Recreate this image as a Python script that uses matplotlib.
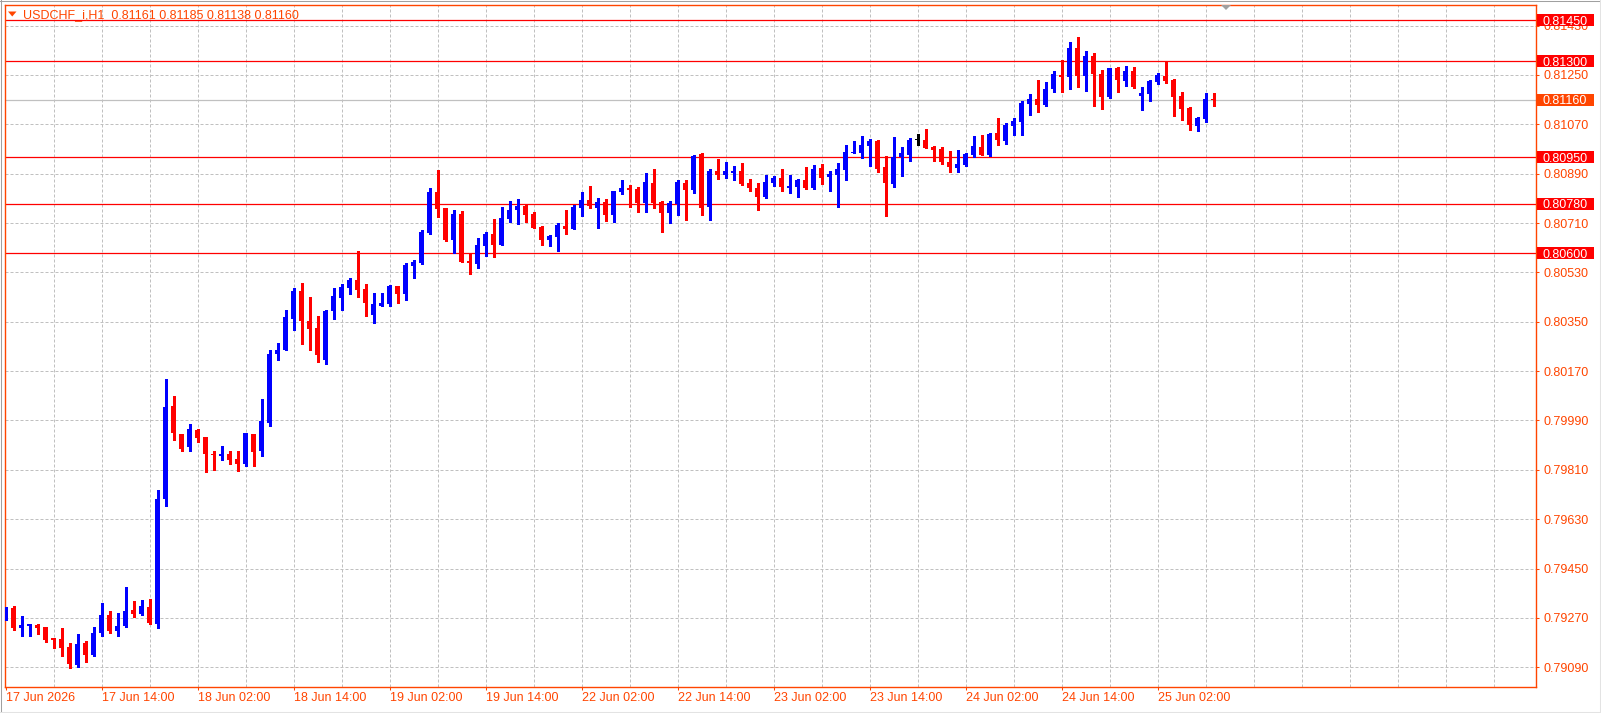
import numpy as np
import matplotlib
matplotlib.use("Agg")
import matplotlib.pyplot as plt
from matplotlib.patches import Rectangle, Polygon
from matplotlib.lines import Line2D
from matplotlib.transforms import blended_transform_factory

plt.rcParams['font.family'] = ['Liberation Sans', 'DejaVu Sans']

# USDCHF_i H1 bars, 17 Jun 02:00 .. 25 Jun 09:00 (weekend skipped)
opens = [0.79275, 0.79305, 0.79234, 0.79242, 0.79244, 0.79237, 0.79197, 0.79193, 0.79164, 0.79097,
         0.79179, 0.79135, 0.79214, 0.79281, 0.79222, 0.79241, 0.79299, 0.79284, 0.79310, 0.79248,
         0.79704, 0.80043, 0.79941, 0.79894, 0.79956, 0.79930, 0.79868, 0.79860, 0.79868, 0.79850,
         0.79831, 0.79941, 0.79879, 0.79981, 0.80232, 0.80247, 0.80360, 0.80462, 0.80353, 0.80327,
         0.80210, 0.80389, 0.80437, 0.80473, 0.80502, 0.80469, 0.80375, 0.80407, 0.80415, 0.80480,
         0.80451, 0.80553, 0.80564, 0.80673, 0.80823, 0.80765, 0.80648, 0.80743, 0.80571, 0.80560,
         0.80626, 0.80670, 0.80630, 0.80725, 0.80757, 0.80772, 0.80743, 0.80695, 0.80648, 0.80659,
         0.80699, 0.80688, 0.80765, 0.80794, 0.80765, 0.80787, 0.80739, 0.80823, 0.80838, 0.80834,
         0.80783, 0.80856, 0.80787, 0.80746, 0.80779, 0.80856, 0.80830, 0.80962, 0.80768, 0.80900,
         0.80885, 0.80892, 0.80900, 0.80856, 0.80838, 0.80805, 0.80856, 0.80874, 0.80838, 0.80841,
         0.80867, 0.80838, 0.80911, 0.80878, 0.80885, 0.80903, 0.80965, 0.80965, 0.80991, 0.81009,
         0.80914, 0.80852, 0.80951, 0.80958, 0.81013, 0.81013, 0.80987, 0.80980, 0.80933, 0.80911,
         0.80922, 0.80958, 0.80987, 0.80958, 0.81038, 0.81009, 0.81064, 0.81078, 0.81144, 0.81162,
         0.81140, 0.81199, 0.81250, 0.81243, 0.81348, 0.81246, 0.81319, 0.81253, 0.81170, 0.81275,
         0.81228, 0.81264, 0.81173, 0.81180, 0.81224, 0.81246, 0.81232, 0.81173, 0.81129, 0.81064,
         0.81089, 0.81161]
highs = [0.79310, 0.79314, 0.79277, 0.79248, 0.79248, 0.79237, 0.79197, 0.79233, 0.79179, 0.79211,
         0.79186, 0.79237, 0.79324, 0.79295, 0.79288, 0.79383, 0.79332, 0.79335, 0.79339, 0.79736,
         0.80141, 0.80079, 0.79941, 0.79977, 0.79959, 0.79930, 0.79879, 0.79897, 0.79879, 0.79879,
         0.79944, 0.79941, 0.80068, 0.80247, 0.80271, 0.80393, 0.80473, 0.80491, 0.80440, 0.80371,
         0.80393, 0.80473, 0.80488, 0.80509, 0.80608, 0.80488, 0.80455, 0.80455, 0.80484, 0.80480,
         0.80564, 0.80575, 0.80684, 0.80837, 0.80903, 0.80765, 0.80757, 0.80754, 0.80601, 0.80655,
         0.80677, 0.80725, 0.80768, 0.80790, 0.80798, 0.80779, 0.80750, 0.80699, 0.80666, 0.80710,
         0.80757, 0.80776, 0.80823, 0.80845, 0.80801, 0.80798, 0.80827, 0.80867, 0.80849, 0.80841,
         0.80892, 0.80907, 0.80790, 0.80790, 0.80867, 0.80867, 0.80958, 0.80965, 0.80907, 0.80943,
         0.80933, 0.80918, 0.80929, 0.80870, 0.80856, 0.80885, 0.80881, 0.80907, 0.80885, 0.80870,
         0.80914, 0.80922, 0.80925, 0.80900, 0.80929, 0.80995, 0.81009, 0.81027, 0.81017, 0.81013,
         0.80954, 0.81024, 0.80987, 0.81020, 0.81034, 0.81053, 0.80991, 0.80987, 0.80973, 0.80976,
         0.80965, 0.81027, 0.81031, 0.81038, 0.81093, 0.81075, 0.81093, 0.81155, 0.81180, 0.81232,
         0.81224, 0.81264, 0.81304, 0.81370, 0.81388, 0.81337, 0.81330, 0.81268, 0.81275, 0.81279,
         0.81282, 0.81279, 0.81206, 0.81232, 0.81257, 0.81297, 0.81235, 0.81188, 0.81133, 0.81097,
         0.81184, 0.81185]
lows = [0.79263, 0.79226, 0.79204, 0.79204, 0.79211, 0.79183, 0.79159, 0.79131, 0.79086, 0.79092,
        0.79110, 0.79131, 0.79204, 0.79214, 0.79204, 0.79238, 0.79273, 0.79281, 0.79248, 0.79233,
        0.79679, 0.79919, 0.79879, 0.79879, 0.79913, 0.79803, 0.79809, 0.79846, 0.79831, 0.79806,
        0.79824, 0.79824, 0.79860, 0.79970, 0.80210, 0.80247, 0.80320, 0.80269, 0.80247, 0.80203,
        0.80196, 0.80360, 0.80393, 0.80451, 0.80440, 0.80371, 0.80345, 0.80407, 0.80407, 0.80418,
        0.80429, 0.80509, 0.80560, 0.80670, 0.80732, 0.80644, 0.80601, 0.80568, 0.80524, 0.80546,
        0.80590, 0.80586, 0.80630, 0.80714, 0.80706, 0.80714, 0.80692, 0.80630, 0.80626, 0.80608,
        0.80670, 0.80688, 0.80736, 0.80765, 0.80692, 0.80717, 0.80714, 0.80816, 0.80768, 0.80750,
        0.80750, 0.80765, 0.80677, 0.80710, 0.80739, 0.80721, 0.80819, 0.80739, 0.80721, 0.80870,
        0.80874, 0.80867, 0.80849, 0.80827, 0.80757, 0.80801, 0.80845, 0.80827, 0.80819, 0.80805,
        0.80834, 0.80834, 0.80852, 0.80827, 0.80768, 0.80867, 0.80965, 0.80947, 0.80918, 0.80896,
        0.80736, 0.80841, 0.80881, 0.80936, 0.80995, 0.80983, 0.80936, 0.80925, 0.80896, 0.80896,
        0.80918, 0.80951, 0.80958, 0.80954, 0.80995, 0.80998, 0.81031, 0.81031, 0.81104, 0.81115,
        0.81137, 0.81188, 0.81188, 0.81199, 0.81206, 0.81192, 0.81137, 0.81126, 0.81166, 0.81188,
        0.81210, 0.81202, 0.81122, 0.81155, 0.81217, 0.81221, 0.81100, 0.81086, 0.81049, 0.81046,
        0.81078, 0.81138]
closes = [0.79305, 0.79232, 0.79244, 0.79248, 0.79234, 0.79190, 0.79190, 0.79162, 0.79103, 0.79175,
          0.79135, 0.79215, 0.79281, 0.79222, 0.79241, 0.79295, 0.79284, 0.79314, 0.79252, 0.79704,
          0.80039, 0.79945, 0.79886, 0.79959, 0.79927, 0.79869, 0.79864, 0.79868, 0.79846, 0.79831,
          0.79944, 0.79875, 0.79988, 0.80232, 0.80247, 0.80367, 0.80462, 0.80353, 0.80324, 0.80229,
          0.80389, 0.80444, 0.80477, 0.80502, 0.80466, 0.80418, 0.80415, 0.80418, 0.80480, 0.80451,
          0.80557, 0.80568, 0.80677, 0.80823, 0.80761, 0.80648, 0.80743, 0.80568, 0.80564, 0.80630,
          0.80670, 0.80630, 0.80728, 0.80757, 0.80772, 0.80739, 0.80692, 0.80648, 0.80663, 0.80703,
          0.80688, 0.80768, 0.80794, 0.80772, 0.80787, 0.80739, 0.80827, 0.80838, 0.80830, 0.80783,
          0.80860, 0.80783, 0.80746, 0.80783, 0.80860, 0.80830, 0.80954, 0.80765, 0.80900, 0.80885,
          0.80900, 0.80900, 0.80852, 0.80838, 0.80805, 0.80860, 0.80874, 0.80841, 0.80845, 0.80867,
          0.80838, 0.80907, 0.80874, 0.80889, 0.80907, 0.80969, 0.80969, 0.80995, 0.81009, 0.80907,
          0.80856, 0.80951, 0.80965, 0.81013, 0.81013, 0.80983, 0.80976, 0.80933, 0.80914, 0.80925,
          0.80962, 0.80991, 0.80958, 0.81034, 0.81013, 0.81068, 0.81082, 0.81148, 0.81162, 0.81140,
          0.81199, 0.81253, 0.81243, 0.81348, 0.81246, 0.81319, 0.81253, 0.81170, 0.81275, 0.81232,
          0.81264, 0.81206, 0.81184, 0.81228, 0.81250, 0.81228, 0.81170, 0.81126, 0.81068, 0.81093,
          0.81161, 0.81160]

time_labels = ["17 Jun 2026", "17 Jun 14:00", "18 Jun 02:00", "18 Jun 14:00", "19 Jun 02:00",
               "19 Jun 14:00", "22 Jun 02:00", "22 Jun 14:00", "23 Jun 02:00", "23 Jun 14:00",
               "24 Jun 02:00", "24 Jun 14:00", "25 Jun 02:00"]
label_bars = [0, 12, 24, 36, 48, 60, 72, 84, 96, 108, 120, 132, 144]

price_ticks = [0.79090, 0.79270, 0.79450, 0.79630, 0.79810, 0.79990, 0.80170,
               0.80350, 0.80530, 0.80710, 0.80890, 0.81070, 0.81250, 0.81430]
levels = [0.81450, 0.81300, 0.80950, 0.80780, 0.80600]
bid = 0.81160
header = "USDCHF_i,H1  0.81161 0.81185 0.81138 0.81160"

W, H = 1601, 713
ORANGE = '#FF4500'
BULL, BEAR = '#0000FF', '#FF0000'

fig = plt.figure(figsize=(W / 100, H / 100), dpi=100)
fig.patch.set_facecolor('white')

def fx(px):
    return px / W

def fy(py):
    return 1 - py / H

ax = fig.add_axes([fx(4.5), fy(686.5), fx(1535.5 - 4.5), (686.5 - 4.5) / H])
ax.set_facecolor('white')
ax.set_xlim(-0.125, 191.25)
ax.set_ylim(0.790200, 0.815068)

o = np.array(opens); hi = np.array(highs); lo = np.array(lows); c = np.array(closes)
n = len(o)
x = np.arange(n)
cols = np.where(c > o, BULL, np.where(c < o, BEAR, '#000000'))
px_price = (0.815068 - 0.790200) / 682.0

# grid
ax.set_yticks(price_ticks)
ax.yaxis.grid(True, color='#C0C0C0', linestyle=(0, (3, 2)), linewidth=0.72, zorder=0)
for gx in np.arange(6, 192, 6):
    ax.axvline(gx, color='#C0C0C0', linestyle=(0, (3, 2)), linewidth=0.72, zorder=0)

# levels and bid line
for lv in levels:
    ax.axhline(lv, color='#FF0000', linewidth=0.9, zorder=1)
ax.axhline(bid, color='#C0C0C0', linewidth=0.9, zorder=1)

# candles
ax.vlines(x, lo, hi, colors=cols, linewidth=0.75, zorder=3, antialiased=False)
body_lo = np.minimum(o, c)
body_h = np.maximum(np.abs(c - o), px_price)
ax.bar(x, body_h, bottom=body_lo, width=0.625, color=cols, linewidth=0, zorder=4,
       antialiased=False)

# axes styling
for s in ax.spines.values():
    s.set_color(ORANGE)
    s.set_linewidth(1.0)
ax.yaxis.tick_right()
ax.set_yticklabels(["%.5f" % p for p in price_ticks])
ax.tick_params(axis='y', length=2.2, width=0.75, color=ORANGE, labelcolor=ORANGE,
               labelsize=9, pad=3.5)
ax.set_xticks(label_bars)
ax.set_xticklabels(time_labels)
ax.tick_params(axis='x', length=2.2, width=0.75, color=ORANGE, labelcolor=ORANGE,
               labelsize=9, pad=1.5)
for t in ax.get_xticklabels():
    t.set_ha('left')

# right-side price boxes
tr = blended_transform_factory(fig.transFigure, ax.transData)
box_h = 12 * px_price
for lv, col in [(lv, '#FF0000') for lv in levels] + [(bid, ORANGE)]:
    fig.add_artist(Rectangle((fx(1536.5), lv - box_h / 2), fx(57), box_h,
                             transform=tr, facecolor=col, edgecolor='none', zorder=5))
    fig.text(fx(1542.5), lv, "%.5f" % lv, transform=tr, color='white', fontsize=9,
             va='center_baseline', ha='left', zorder=6)

# header
fig.add_artist(Polygon([(fx(8), fy(11.5)), (fx(16.5), fy(11.5)), (fx(12.25), fy(16.5))],
                       closed=True, facecolor=ORANGE, edgecolor='none', zorder=5))
fig.text(fx(23), fy(18), header, color=ORANGE, fontsize=9, va='baseline', ha='left')

# chart shift marker
fig.add_artist(Polygon([(fx(1221), fy(5)), (fx(1231), fy(5)), (fx(1226), fy(10))],
                       closed=True, facecolor='#A0A0A0', edgecolor='none', zorder=5))

# window frame
fig.add_artist(Line2D([0, 1], [fy(0.5), fy(0.5)], color='#A0A0A0', linewidth=0.75))
fig.add_artist(Line2D([fx(0.5), fx(0.5)], [0, 1], color='#A0A0A0', linewidth=0.75))
fig.add_artist(Line2D([0, 1], [fy(712), fy(712)], color='#E3E3E3', linewidth=0.75))
fig.add_artist(Line2D([fx(1600), fx(1600)], [0, 1], color='#E3E3E3', linewidth=0.75))

fig.savefig("out.png", dpi=100, facecolor='white')
